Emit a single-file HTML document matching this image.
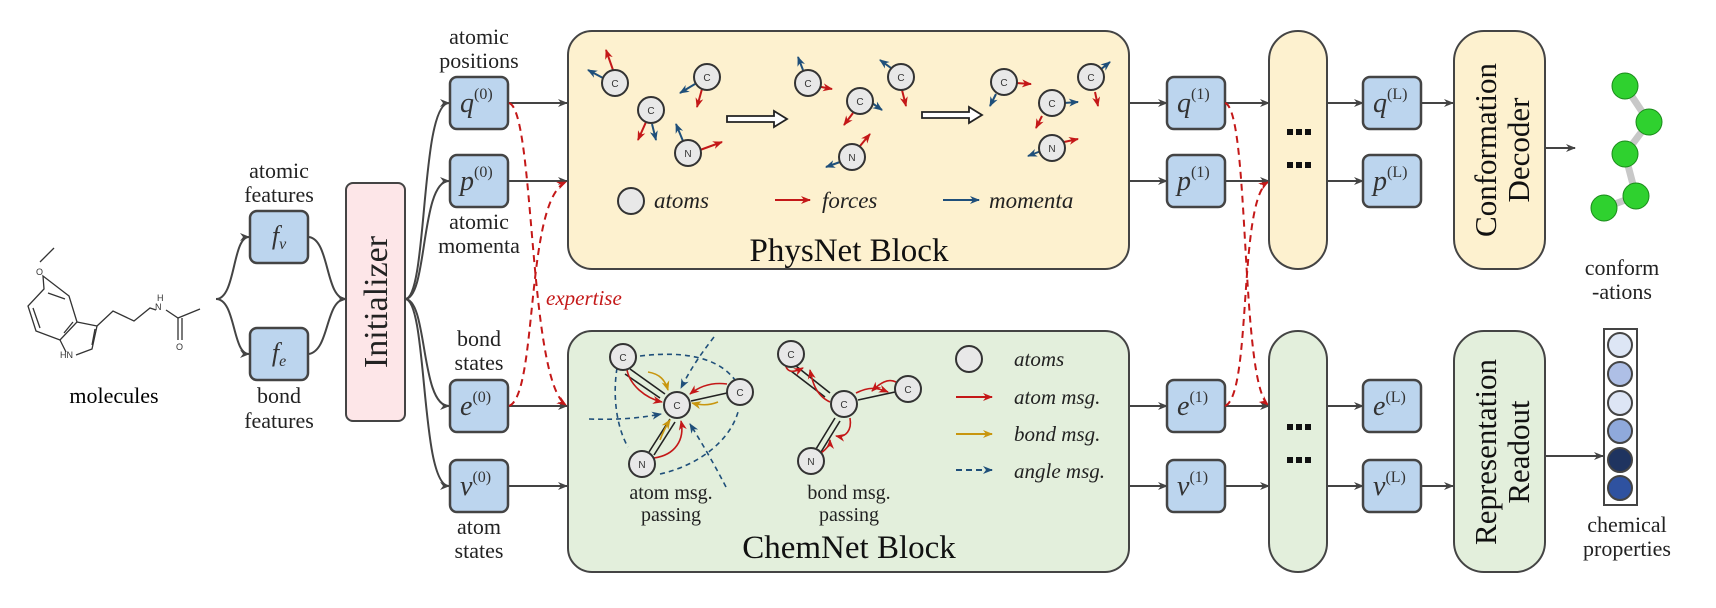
<!DOCTYPE html>
<html><head><meta charset="utf-8"><style>
html,body{margin:0;padding:0;background:#fff;}
svg{display:block;font-family:"Liberation Serif",serif;}
</style></head><body>
<svg width="1716" height="608" viewBox="0 0 1716 608" xmlns="http://www.w3.org/2000/svg">
<defs>
<marker id="ag" markerWidth="10" markerHeight="10" refX="9" refY="5" orient="auto" markerUnits="userSpaceOnUse"><path d="M0,1 L10,5 L0,9 L3,5z" fill="#444"/></marker>
<marker id="ar" markerWidth="10" markerHeight="10" refX="9" refY="5" orient="auto" markerUnits="userSpaceOnUse"><path d="M0,1 L10,5 L0,9 L3,5z" fill="#c41818"/></marker>
<marker id="ab" markerWidth="10" markerHeight="10" refX="9" refY="5" orient="auto" markerUnits="userSpaceOnUse"><path d="M0,1 L10,5 L0,9 L3,5z" fill="#1f4f7a"/></marker>
<marker id="ay" markerWidth="10" markerHeight="10" refX="9" refY="5" orient="auto" markerUnits="userSpaceOnUse"><path d="M0,1 L10,5 L0,9 L3,5z" fill="#c8960f"/></marker>
</defs>

<!-- molecule -->
<g stroke="#333" stroke-width="1.3" fill="none">
<path d="M54,248 L40,262"/>
<path d="M43,276 L44,289 L28,306 L36,331 L60,340 L77,322 L69,296 Z"/>
<path d="M33,308 L40,328 M64,333 L73,322 M48,293 L65,299"/>
<path d="M60,340 L66,352 M76,355 L92,349 L97,326 L77,322"/>
<path d="M92,345 L95,329"/>
<path d="M97,326 L113,311 L134,321 L150,308 L156,310"/>
<path d="M166,310 L178,318 L200,309"/>
<path d="M178,318 L178,340 M182,318 L182,340"/>
</g>
<g font-family="Liberation Sans,sans-serif" font-size="9" fill="#333">
<text x="36" y="275">O</text><text x="60" y="358">HN</text><text x="155" y="310">N</text><text x="157" y="301">H</text><text x="176" y="350">O</text>
</g>
<text x="114" y="403" font-size="22" text-anchor="middle">molecules</text>

<!-- branching -->
<g stroke="#444" stroke-width="2" fill="none">
<path d="M216,299 C236,299 232,237 249,237" marker-end="url(#ag)"/>
<path d="M216,299 C236,299 232,354 249,354" marker-end="url(#ag)"/>
<path d="M309,237 C330,240 325,299 346,299" marker-end="url(#ag)"/>
<path d="M309,354 C330,350 325,299 346,299" marker-end="url(#ag)"/>
<path d="M405,299 C428,299 420,103 449,103" marker-end="url(#ag)"/>
<path d="M405,299 C428,299 420,181 449,181" marker-end="url(#ag)"/>
<path d="M405,299 C428,299 420,406 449,406" marker-end="url(#ag)"/>
<path d="M405,299 C428,299 420,486 449,486" marker-end="url(#ag)"/>
</g>

<!-- feature boxes -->
<g fill="#bcd5ee" stroke="#444" stroke-width="2.5">
<rect x="250" y="211" width="58" height="52" rx="7"/>
<rect x="250" y="328" width="58" height="52" rx="7"/>
</g>
<text x="279" y="244" font-size="26" font-style="italic" text-anchor="middle" fill="#333">f<tspan font-size="16" dy="5">v</tspan></text>
<text x="279" y="361" font-size="26" font-style="italic" text-anchor="middle" fill="#333">f<tspan font-size="16" dy="5">e</tspan></text>
<g font-size="22" text-anchor="middle" fill="#222">
<text x="279" y="178">atomic</text><text x="279" y="202">features</text>
<text x="279" y="403">bond</text><text x="279" y="428">features</text>
</g>

<!-- initializer -->
<rect x="346" y="183" width="59" height="238" rx="7" fill="#fde6e8" stroke="#444" stroke-width="2"/>
<text transform="translate(387,302) rotate(-90)" font-size="34" text-anchor="middle" fill="#222">Initializer</text>

<!-- boxes -->
<g fill="#bcd5ee" stroke="#444" stroke-width="2.5">
<rect x="450" y="77" width="58" height="52" rx="7"/>
<rect x="450" y="155" width="58" height="52" rx="7"/>
<rect x="450" y="380" width="58" height="52" rx="7"/>
<rect x="450" y="460" width="58" height="52" rx="7"/>
<rect x="1167" y="77" width="58" height="52" rx="7"/>
<rect x="1167" y="155" width="58" height="52" rx="7"/>
<rect x="1167" y="380" width="58" height="52" rx="7"/>
<rect x="1167" y="460" width="58" height="52" rx="7"/>
<rect x="1363" y="77" width="58" height="52" rx="7"/>
<rect x="1363" y="155" width="58" height="52" rx="7"/>
<rect x="1363" y="380" width="58" height="52" rx="7"/>
<rect x="1363" y="460" width="58" height="52" rx="7"/>
</g>
<g font-size="28" font-style="italic" fill="#333">
<text x="460" y="112">q<tspan font-size="16" font-style="normal" dy="-13">(0)</tspan></text>
<text x="460" y="190">p<tspan font-size="16" font-style="normal" dy="-13">(0)</tspan></text>
<text x="460" y="415">e<tspan font-size="16" font-style="normal" dy="-13">(0)</tspan></text>
<text x="460" y="495">v<tspan font-size="16" font-style="normal" dy="-13">(0)</tspan></text>
<text x="1177" y="112">q<tspan font-size="16" font-style="normal" dy="-13">(1)</tspan></text>
<text x="1177" y="190">p<tspan font-size="16" font-style="normal" dy="-13">(1)</tspan></text>
<text x="1177" y="415">e<tspan font-size="16" font-style="normal" dy="-13">(1)</tspan></text>
<text x="1177" y="495">v<tspan font-size="16" font-style="normal" dy="-13">(1)</tspan></text>
<text x="1373" y="112">q<tspan font-size="16" font-style="normal" dy="-13">(L)</tspan></text>
<text x="1373" y="190">p<tspan font-size="16" font-style="normal" dy="-13">(L)</tspan></text>
<text x="1373" y="415">e<tspan font-size="16" font-style="normal" dy="-13">(L)</tspan></text>
<text x="1373" y="495">v<tspan font-size="16" font-style="normal" dy="-13">(L)</tspan></text>
</g>
<g font-size="22" text-anchor="middle" fill="#222">
<text x="479" y="44">atomic</text><text x="479" y="68">positions</text>
<text x="479" y="229">atomic</text><text x="479" y="253">momenta</text>
<text x="479" y="346">bond</text><text x="479" y="370">states</text>
<text x="479" y="534">atom</text><text x="479" y="558">states</text>
</g>

<!-- straight connectors -->
<g stroke="#444" stroke-width="2" fill="none" marker-end="url(#ag)">
<path d="M508,103 H567"/><path d="M508,181 H567"/><path d="M508,406 H567"/><path d="M508,486 H567"/>
<path d="M1129,103 H1167"/><path d="M1129,181 H1167"/><path d="M1129,406 H1167"/><path d="M1129,486 H1167"/>
<path d="M1225,103 H1269"/><path d="M1225,181 H1269"/><path d="M1225,406 H1269"/><path d="M1225,486 H1269"/>
<path d="M1327,103 H1363"/><path d="M1327,181 H1363"/><path d="M1327,406 H1363"/><path d="M1327,486 H1363"/>
<path d="M1421,103 H1453"/><path d="M1421,486 H1453"/>
<path d="M1545,148 H1575"/><path d="M1545,456 H1603"/>
</g>

<!-- expertise dashed -->
<g stroke="#c41818" stroke-width="2" fill="none" stroke-dasharray="7,5" marker-end="url(#ar)">
<path d="M509,103 C535,110 528,380 566,405"/>
<path d="M509,406 C538,395 525,200 566,182"/>
<path d="M1225,103 C1250,110 1240,380 1268,405"/>
<path d="M1225,406 C1252,395 1238,200 1268,182"/>
</g>
<text x="546" y="305" font-size="21" font-style="italic" fill="#c41818">expertise</text>

<!-- PhysNet -->
<rect x="568" y="31" width="561" height="238" rx="24" fill="#fdf1cf" stroke="#444" stroke-width="2"/>
<g stroke-width="2">
<g stroke="#c41818" marker-end="url(#ar)">
<path d="M613,70 L606,50"/><path d="M702,89 L697,107"/><path d="M646,122 L638,140"/><path d="M700,150 L722,142"/>
<path d="M816,86 L832,89"/><path d="M902,90 L906,106"/><path d="M853,113 L844,125"/><path d="M860,146 L870,134"/>
<path d="M1016,83 L1031,84"/><path d="M1095,92 L1098,106"/><path d="M1042,116 L1036,128"/><path d="M1064,142 L1078,139"/>
</g>
<g stroke="#1f4f7a" marker-end="url(#ab)">
<path d="M603,78 L588,70"/><path d="M695,84 L680,93"/><path d="M652,124 L656,140"/><path d="M683,141 L676,124"/>
<path d="M803,70 L798,57"/><path d="M891,68 L880,60"/><path d="M872,103 L882,110"/><path d="M840,162 L826,167"/>
<path d="M996,94 L990,106"/><path d="M1100,70 L1110,62"/><path d="M1064,103 L1078,102"/><path d="M1041,151 L1028,156"/>
</g>
<g fill="#e8e8e8" stroke="#333">
<circle cx="615" cy="83" r="13"/><circle cx="707" cy="77" r="13"/><circle cx="651" cy="110" r="13"/><circle cx="688" cy="153" r="13"/>
<circle cx="808" cy="83" r="13"/><circle cx="901" cy="77" r="13"/><circle cx="860" cy="101" r="13"/><circle cx="852" cy="157" r="13"/>
<circle cx="1004" cy="82" r="13"/><circle cx="1091" cy="77" r="13"/><circle cx="1052" cy="103" r="13"/><circle cx="1052" cy="148" r="13"/>
</g>
</g>
<g font-family="Liberation Sans,sans-serif" font-size="10" fill="#333" text-anchor="middle">
<text x="615" y="87">C</text><text x="707" y="81">C</text><text x="651" y="114">C</text><text x="688" y="157">N</text>
<text x="808" y="87">C</text><text x="901" y="81">C</text><text x="860" y="105">C</text><text x="852" y="161">N</text>
<text x="1004" y="86">C</text><text x="1091" y="81">C</text><text x="1052" y="107">C</text><text x="1052" y="152">N</text>
</g>
<path d="M727,116 H774 V111 L787,119 L774,127 V122 H727 Z" fill="#fff" stroke="#222" stroke-width="1.8"/>
<path d="M922,112 H969 V107 L982,115 L969,123 V118 H922 Z" fill="#fff" stroke="#222" stroke-width="1.8"/>
<circle cx="631" cy="201" r="13" fill="#e8e8e8" stroke="#333" stroke-width="2"/>
<path d="M775,200 H810" stroke="#c41818" stroke-width="2" marker-end="url(#ar)"/>
<path d="M943,200 H979" stroke="#1f4f7a" stroke-width="2" marker-end="url(#ab)"/>
<g font-size="23" font-style="italic" fill="#222">
<text x="654" y="208">atoms</text><text x="822" y="208">forces</text><text x="989" y="208">momenta</text>
</g>
<text x="849" y="261" font-size="33" text-anchor="middle" fill="#111">PhysNet Block</text>

<!-- ChemNet -->
<rect x="568" y="331" width="561" height="241" rx="24" fill="#e3efdc" stroke="#444" stroke-width="2"/>
<g stroke-width="1.6" fill="none">
<g stroke="#1f4f7a" stroke-dasharray="5,4">
<path d="M640,356 C690,350 720,360 735,380"/>
<path d="M714,337 C700,355 690,370 681,388" marker-end="url(#ab)"/>
<path d="M589,419 C620,420 640,418 661,414" marker-end="url(#ab)"/>
<path d="M726,487 C712,460 700,440 690,424" marker-end="url(#ab)"/>
<path d="M617,368 C612,400 618,430 628,447"/>
<path d="M660,474 C700,465 730,440 738,412"/>
</g>
<g stroke="#222"><path d="M630,369 L665,394 M625,374 L660,398"/><path d="M649,452 L670,419 M654,455 L675,422"/><path d="M691,401 L727,393"/>
<path d="M796,366 L830,393 M791,371 L825,397"/><path d="M816,449 L835,418 M821,452 L840,421"/><path d="M858,400 L895,392"/></g>
<g stroke="#c41818">
<path d="M627,370 C630,385 645,398 662,402" marker-end="url(#ar)"/>
<path d="M727,384 C712,382 700,386 690,394" marker-end="url(#ar)"/>
<path d="M654,458 C675,455 685,440 681,421" marker-end="url(#ar)"/>
<path d="M785,360 C785,375 795,372 803,368" marker-end="url(#ar)"/>
<path d="M830,402 C815,395 812,380 810,370" marker-end="url(#ar)"/>
<path d="M856,393 C870,386 878,388 888,392" marker-end="url(#ar)"/>
<path d="M896,382 C888,378 880,383 872,391" marker-end="url(#ar)"/>
<path d="M850,418 C852,430 846,438 836,436" marker-end="url(#ar)"/>
<path d="M818,455 C826,450 830,445 830,440" marker-end="url(#ar)"/>
</g>
<g stroke="#c8960f">
<path d="M648,372 C660,374 665,380 668,390" marker-end="url(#ay)"/>
<path d="M718,402 C708,406 700,405 692,403" marker-end="url(#ay)"/>
<path d="M660,440 C663,432 666,426 670,420" marker-end="url(#ay)"/>
</g>
</g>
<g fill="#e8e8e8" stroke="#333" stroke-width="2">
<circle cx="623" cy="357" r="13"/><circle cx="677" cy="405" r="13"/><circle cx="740" cy="392" r="13"/><circle cx="642" cy="464" r="13"/>
<circle cx="791" cy="354" r="13"/><circle cx="844" cy="404" r="13"/><circle cx="908" cy="389" r="13"/><circle cx="811" cy="461" r="13"/>
<circle cx="969" cy="359" r="13"/>
</g>
<g font-family="Liberation Sans,sans-serif" font-size="10" fill="#333" text-anchor="middle">
<text x="623" y="361">C</text><text x="677" y="409">C</text><text x="740" y="396">C</text><text x="642" y="468">N</text>
<text x="791" y="358">C</text><text x="844" y="408">C</text><text x="908" y="393">C</text><text x="811" y="465">N</text>
</g>
<path d="M956,397 H992" stroke="#c41818" stroke-width="2" marker-end="url(#ar)"/>
<path d="M956,434 H992" stroke="#c8960f" stroke-width="2" marker-end="url(#ay)"/>
<path d="M956,470 H992" stroke="#1f4f7a" stroke-width="2" stroke-dasharray="6,4" marker-end="url(#ab)"/>
<g font-size="21" font-style="italic" fill="#222">
<text x="1014" y="366">atoms</text><text x="1014" y="404">atom msg.</text><text x="1014" y="441">bond msg.</text><text x="1014" y="478">angle msg.</text>
</g>
<g font-size="20" text-anchor="middle" fill="#222">
<text x="671" y="499">atom msg.</text><text x="671" y="521">passing</text>
<text x="849" y="499">bond msg.</text><text x="849" y="521">passing</text>
</g>
<text x="849" y="558" font-size="33" text-anchor="middle" fill="#111">ChemNet Block</text>

<!-- pills -->
<rect x="1269" y="31" width="58" height="238" rx="29" fill="#fdf1cf" stroke="#444" stroke-width="2"/>
<rect x="1269" y="331" width="58" height="241" rx="29" fill="#e3efdc" stroke="#444" stroke-width="2"/>
<g fill="#111">
<rect x="1287" y="129" width="6" height="6"/><rect x="1296" y="129" width="6" height="6"/><rect x="1305" y="129" width="6" height="6"/>
<rect x="1287" y="162" width="6" height="6"/><rect x="1296" y="162" width="6" height="6"/><rect x="1305" y="162" width="6" height="6"/>
<rect x="1287" y="424" width="6" height="6"/><rect x="1296" y="424" width="6" height="6"/><rect x="1305" y="424" width="6" height="6"/>
<rect x="1287" y="457" width="6" height="6"/><rect x="1296" y="457" width="6" height="6"/><rect x="1305" y="457" width="6" height="6"/>
</g>

<!-- decoder / readout -->
<rect x="1454" y="31" width="91" height="238" rx="30" fill="#fdf1cf" stroke="#444" stroke-width="2"/>
<rect x="1454" y="331" width="91" height="241" rx="30" fill="#e3efdc" stroke="#444" stroke-width="2"/>
<g font-size="31" text-anchor="middle" fill="#111">
<text transform="translate(1496,150) rotate(-90)">Conformation</text>
<text transform="translate(1529,150) rotate(-90)">Decoder</text>
<text transform="translate(1496,452) rotate(-90)">Representation</text>
<text transform="translate(1529,452) rotate(-90)">Readout</text>
</g>

<!-- conformation molecule -->
<g stroke="#c8c8c8" stroke-width="7" stroke-linecap="round" fill="none"><path d="M1625,86 L1649,122 L1625,154 L1636,196 L1604,208"/></g>
<g fill="#2fd12f" stroke="#1a8a1a" stroke-width="1">
<circle cx="1625" cy="86" r="13"/><circle cx="1649" cy="122" r="13"/><circle cx="1625" cy="154" r="13"/><circle cx="1636" cy="196" r="13"/><circle cx="1604" cy="208" r="13"/>
</g>
<g font-size="22" text-anchor="middle" fill="#222">
<text x="1622" y="275">conform</text><text x="1622" y="299">-ations</text>
<text x="1627" y="532">chemical</text><text x="1627" y="556">properties</text>
</g>

<!-- properties -->
<rect x="1604" y="329" width="33" height="176" fill="#fff" stroke="#444" stroke-width="2"/>
<g stroke="#444" stroke-width="2">
<circle cx="1620" cy="345" r="12" fill="#dde6f5"/><circle cx="1620" cy="374" r="12" fill="#aebfe6"/><circle cx="1620" cy="403" r="12" fill="#dde5f5"/>
<circle cx="1620" cy="431" r="12" fill="#8fa9db"/><circle cx="1620" cy="460" r="12" fill="#1f3460"/><circle cx="1620" cy="488" r="12" fill="#2f52a0"/>
</g>
</svg>
</body></html>
